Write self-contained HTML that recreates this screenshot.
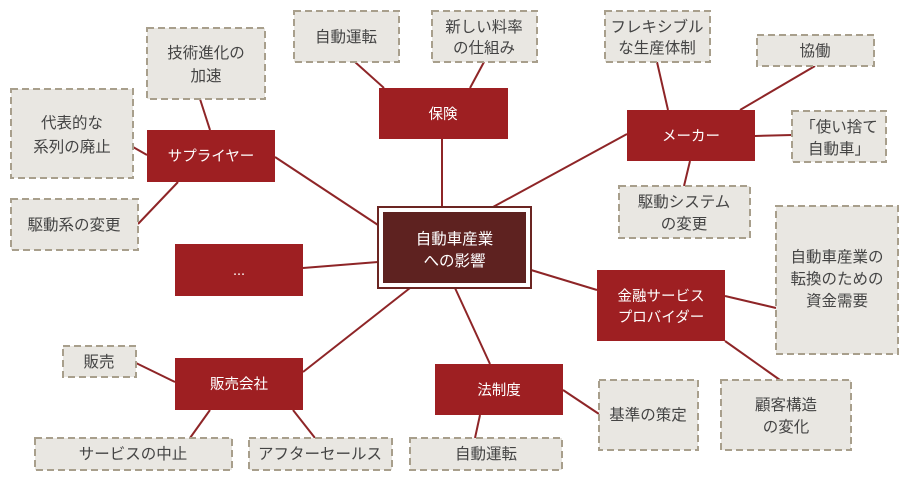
<!DOCTYPE html>
<html><head><meta charset="utf-8"><style>
html,body{margin:0;padding:0;background:#fff;}
svg{display:block;}
text{font-family:"Liberation Sans","Noto Sans CJK JP",sans-serif;}
.g rect{fill:#e9e7e2;stroke:#a89f8c;stroke-width:2;stroke-dasharray:7,4;}
.g text{fill:#444;font-size:15.5px;text-anchor:middle;}
.r rect{fill:#9e1f22;}
.r text{fill:#fff;font-size:14.5px;text-anchor:middle;}
line{stroke:#8e2527;stroke-width:2;}
</style></head><body>
<svg width="909" height="481" viewBox="0 0 909 481">
<g>
<line x1="442" y1="207" x2="442" y2="139"/>
<line x1="378" y1="225" x2="275" y2="157"/>
<line x1="378" y1="262" x2="303" y2="268"/>
<line x1="410" y1="288" x2="303" y2="372"/>
<line x1="455" y1="288" x2="490" y2="364"/>
<line x1="531" y1="270" x2="597" y2="290"/>
<line x1="493" y1="207" x2="627" y2="134"/>
<line x1="384" y1="88" x2="355" y2="62"/>
<line x1="470" y1="88" x2="484" y2="62"/>
<line x1="210" y1="130" x2="200" y2="99"/>
<line x1="147" y1="155" x2="133" y2="147"/>
<line x1="178" y1="182" x2="138" y2="224"/>
<line x1="668" y1="110" x2="657" y2="62"/>
<line x1="740" y1="110" x2="815" y2="66"/>
<line x1="755" y1="136" x2="792" y2="135"/>
<line x1="690" y1="161" x2="684" y2="186"/>
<line x1="725" y1="296" x2="776" y2="308"/>
<line x1="725" y1="341" x2="780" y2="380"/>
<line x1="563" y1="390" x2="599" y2="414"/>
<line x1="480" y1="415" x2="475" y2="438"/>
<line x1="175" y1="382" x2="136" y2="363"/>
<line x1="210" y1="410" x2="190" y2="438"/>
<line x1="293" y1="410" x2="315" y2="438"/>
</g>
<rect x="378" y="207" width="153" height="81" fill="#fff" stroke="#6b2522" stroke-width="2"/>
<rect x="383" y="212" width="143" height="71" fill="#5e2220"/>
<text x="454.5" y="244" fill="#fff" font-size="15.5" text-anchor="middle">自動車産業</text>
<text x="454.5" y="266" fill="#fff" font-size="15.5" text-anchor="middle">への影響</text>

<g class="r">
<rect x="379" y="88" width="129" height="51"/><text x="443" y="119">保険</text>
<rect x="147" y="130" width="128" height="52"/><text x="211" y="161">サプライヤー</text>
<rect x="175" y="244" width="128" height="52"/><text x="239" y="275">...</text>
<rect x="175" y="358" width="128" height="52"/><text x="239" y="389">販売会社</text>
<rect x="435" y="364" width="128" height="51"/><text x="499" y="395">法制度</text>
<rect x="597" y="270" width="128" height="71"/><text x="661" y="301">金融サービス</text><text x="661" y="322">プロバイダー</text>
<rect x="627" y="110" width="128" height="51"/><text x="691" y="141">メーカー</text>
</g>

<g class="g">
<rect x="294" y="11" width="105" height="51"/><text x="346" y="42">自動運転</text>
<rect x="432" y="11" width="105" height="51"/><text x="484" y="32">新しい料率</text><text x="484" y="53">の仕組み</text>
<rect x="147" y="28" width="118" height="71"/><text x="206" y="58">技術進化の</text><text x="206" y="81">加速</text>
<rect x="11" y="89" width="122" height="89"/><text x="72" y="128">代表的な</text><text x="72" y="152">系列の廃止</text>
<rect x="11" y="199" width="127" height="51"/><text x="74" y="230">駆動系の変更</text>
<rect x="605" y="11" width="105" height="51"/><text x="657" y="32">フレキシブル</text><text x="657" y="53">な生産体制</text>
<rect x="757" y="35" width="117" height="31"/><text x="815" y="56">協働</text>
<rect x="792" y="111" width="94" height="51"/><text x="839" y="132">「使い捨て</text><text x="839" y="154">自動車」</text>
<rect x="619" y="186" width="131" height="52"/><text x="684" y="207">駆動システム</text><text x="684" y="229">の変更</text>
<rect x="776" y="206" width="122" height="148"/><text x="837" y="262">自動車産業の</text><text x="837" y="284">転換のための</text><text x="837" y="306">資金需要</text>
<rect x="721" y="380" width="130" height="70"/><text x="786" y="410">顧客構造</text><text x="786" y="432">の変化</text>
<rect x="599" y="380" width="99" height="70"/><text x="648" y="420">基準の策定</text>
<rect x="410" y="438" width="152" height="32"/><text x="486" y="459">自動運転</text>
<rect x="63" y="346" width="73" height="31"/><text x="99" y="367">販売</text>
<rect x="35" y="438" width="197" height="32"/><text x="133" y="459">サービスの中止</text>
<rect x="249" y="438" width="143" height="32"/><text x="320" y="459">アフターセールス</text>
</g>
</svg>
</body></html>
